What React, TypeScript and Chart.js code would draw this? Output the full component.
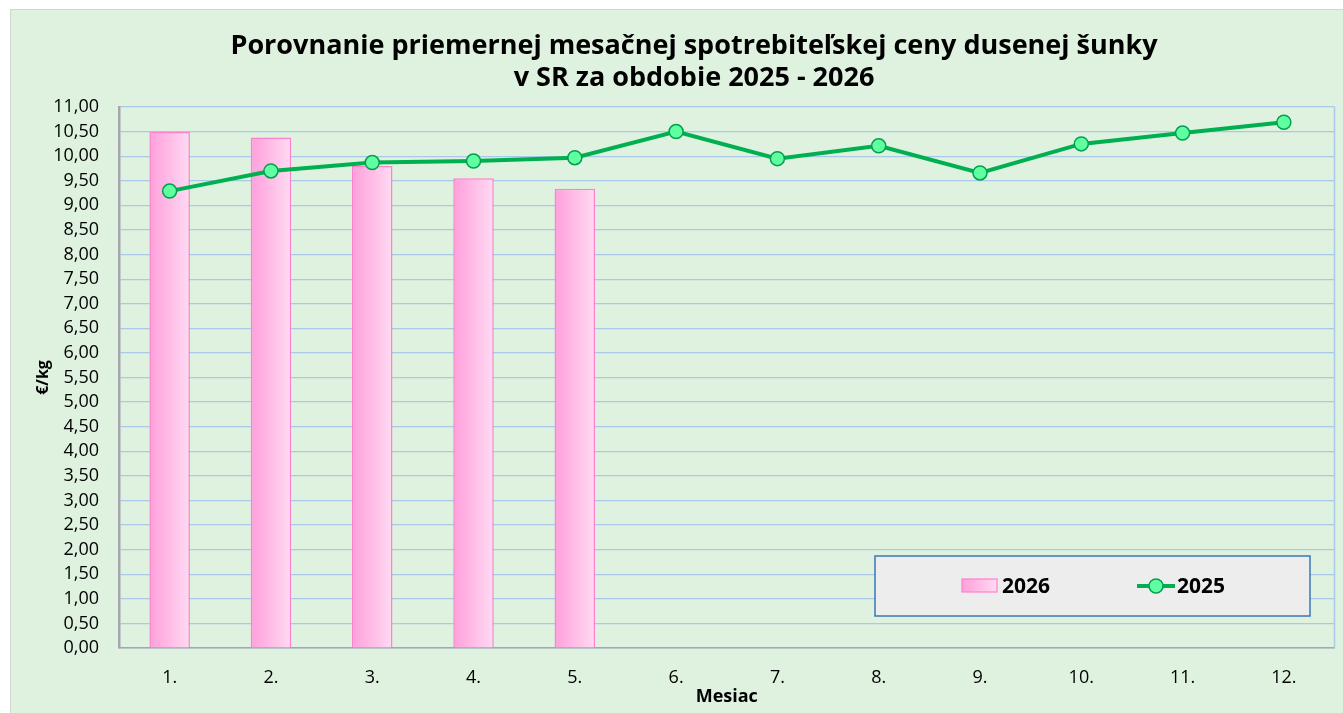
import { useEffect, useRef } from 'react';
import { Chart, registerables } from 'chart.js';

Chart.register(...registerables);

const titleLines = [
  'Porovnanie priemernej mesačnej spotrebiteľskej ceny dusenej šunky',
  'v SR za obdobie 2025 - 2026',
];
const months = ['1.', '2.', '3.', '4.', '5.', '6.', '7.', '8.', '9.', '10.', '11.', '12.'];
const prices2026 = [10.49, 10.38, 9.8, 9.55, 9.34];
const prices2025 = [9.29, 9.7, 9.87, 9.9, 9.97, 10.5, 9.95, 10.21, 9.66, 10.25, 10.47, 10.69];
const seriesNames = ['2026', '2025'];
const yMin = 0;
const yMax = 11;
const yStep = 0.5;

const FONT = '"Open Sans", "Noto Sans", sans-serif';
const GRID = '#A9C9E6';
const AXIS = '#A6A6AE';
const GREEN = '#00B050';
const POINT_FILL = '#60FFA0';
const POINT_BORDER = '#00A050';
const PINK_BORDER = '#FF80CC';

function pinkGradient(ctx: CanvasRenderingContext2D, x0: number, x1: number) {
  const g = ctx.createLinearGradient(x0, 0, x1, 0);
  g.addColorStop(0, '#FF9FDB');
  g.addColorStop(1, '#FFDAF2');
  return g;
}

export default function App() {
  const ref = useRef<HTMLCanvasElement>(null);

  useEffect(() => {
    const canvas = ref.current;
    if (!canvas) return;

    const decor = {
      id: 'decor',
      beforeDatasetsDraw(chart: any) {
        const { ctx, chartArea: a } = chart;
        ctx.save();
        ctx.strokeStyle = GRID;
        ctx.lineWidth = 1.5;
        ctx.beginPath();
        ctx.moveTo(a.right, a.top);
        ctx.lineTo(a.right, a.bottom);
        ctx.stroke();
        ctx.restore();
        const meta = chart.getDatasetMeta(0);
        meta.data.forEach((bar: any) => {
          const { x, width } = bar.getProps(['x', 'width'], true);
          bar.options.backgroundColor = pinkGradient(ctx, x - width / 2, x + width / 2);
        });
      },
      afterDraw(chart: any) {
        const { ctx, chartArea: a } = chart;
        ctx.save();
        // title
        ctx.fillStyle = '#000';
        ctx.font = `bold 27px ${FONT}`;
        ctx.textAlign = 'center';
        ctx.textBaseline = 'middle';
        titleLines.forEach((t, i) => ctx.fillText(t, 683, 36 + i * 32));

        // legend
        const bw = 435;
        const bh = 60;
        const bx = chart.width - 33 - bw;
        const by = a.bottom - 32 - bh;
        ctx.fillStyle = '#EDEDED';
        ctx.fillRect(bx, by, bw, bh);
        ctx.strokeStyle = '#3A78B5';
        ctx.lineWidth = 1.5;
        ctx.strokeRect(bx, by, bw, bh);
        const cy = by + 30;
        // bar swatch
        const sx = bx + 87;
        ctx.fillStyle = pinkGradient(ctx, sx, sx + 35);
        ctx.fillRect(sx, cy - 7, 35, 13);
        ctx.strokeStyle = PINK_BORDER;
        ctx.lineWidth = 1.2;
        ctx.strokeRect(sx, cy - 7, 35, 13);
        ctx.fillStyle = '#000';
        ctx.font = `bold 21px ${FONT}`;
        ctx.textAlign = 'left';
        ctx.fillText(seriesNames[0], sx + 40, cy + 1);
        // line swatch
        const lx = bx + 262;
        ctx.strokeStyle = GREEN;
        ctx.lineWidth = 4;
        ctx.beginPath();
        ctx.moveTo(lx, cy);
        ctx.lineTo(lx + 38, cy);
        ctx.stroke();
        ctx.beginPath();
        ctx.arc(lx + 19, cy, 7, 0, Math.PI * 2);
        ctx.fillStyle = POINT_FILL;
        ctx.fill();
        ctx.strokeStyle = POINT_BORDER;
        ctx.lineWidth = 1.5;
        ctx.stroke();
        ctx.fillStyle = '#000';
        ctx.fillText(seriesNames[1], lx + 40, cy + 1);
        ctx.restore();
      },
    };

    const chart = new Chart(canvas, {
      type: 'bar',
      data: {
        labels: months,
        datasets: [
          {
            type: 'bar',
            label: seriesNames[0],
            data: prices2026,
            backgroundColor: () => '#FFBDE6',
            borderColor: PINK_BORDER,
            borderWidth: 1.5,
            barPercentage: 0.4,
            categoryPercentage: 1,
            order: 2,
          },
          {
            type: 'line',
            label: seriesNames[1],
            data: prices2025,
            borderColor: GREEN,
            borderWidth: 4,
            pointRadius: 7,
            pointBackgroundColor: POINT_FILL,
            pointBorderColor: POINT_BORDER,
            pointBorderWidth: 1.5,
            tension: 0,
            order: 1,
          },
        ],
      },
      plugins: [decor],
      options: {
        responsive: false,
        animation: false,
        layout: { padding: { top: 97, right: 0, left: 0, bottom: 0 } },
        plugins: {
          legend: { display: false },
          title: { display: false },
          tooltip: { enabled: false },
        },
        scales: {
          x: {
            offset: true,
            grid: { display: false },
            border: { color: AXIS, width: 1.5 },
            ticks: { color: '#000', padding: 11, font: { family: FONT, size: 18 } },
            title: {
              display: true,
              text: 'Mesiac',
              color: '#000',
              font: { family: FONT, size: 18, weight: 'bold' },
              padding: { top: 0, bottom: 5 },
            },
            afterFit(scale: any) {
              scale.height = 65;
            },
          },
          y: {
            min: yMin,
            max: yMax,
            grid: { color: GRID, lineWidth: 1.2, drawTicks: false },
            border: { color: AXIS, width: 2.5 },
            ticks: {
              stepSize: yStep,
              autoSkip: false,
              color: '#000',
              padding: 20,
              font: { family: FONT, size: 18, lineHeight: 1 },
              callback: (v: any) => Number(v).toFixed(2).replace('.', ','),
            },
            title: {
              display: true,
              text: '€/kg',
              color: '#000',
              font: { family: FONT, size: 16, weight: 'bold' },
              padding: { top: 23, bottom: 0 },
            },
            afterFit(scale: any) {
              scale.width = 108;
            },
          },
        },
      },
    });
    return () => chart.destroy();
  }, []);

  return (
    <div
      style={{
        position: 'absolute',
        left: 10,
        top: 9,
        width: 1333,
        height: 704,
        background: '#DFF2E0',
        borderLeft: '1px solid #D4D4D4',
        borderTop: '1px solid #D4D4D4',
        boxSizing: 'border-box',
      }}
    >
      <canvas ref={ref} width={1332} height={703} style={{ display: 'block' }} />
    </div>
  );
}
